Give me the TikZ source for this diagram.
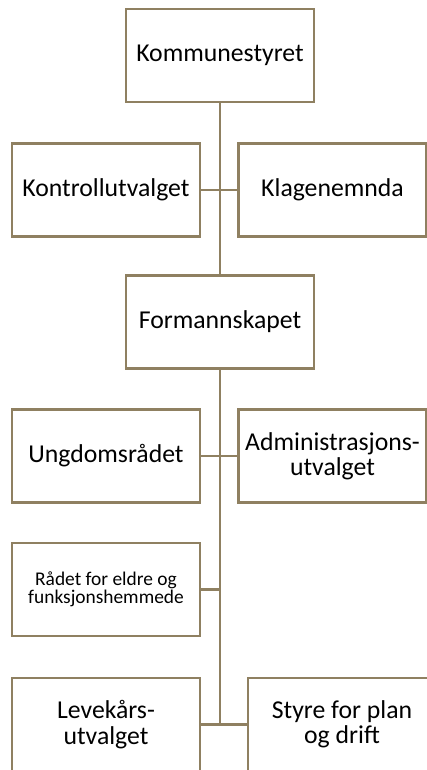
\documentclass[tikz,border=0pt]{standalone}
\usepackage{fontspec}
\setmainfont{Carlito}
\definecolor{taupe}{RGB}{143,128,97}

\begin{document}
\begin{tikzpicture}[x=0.025cm, y=-0.025cm,
  box/.style={draw=taupe, line width=1.8pt, minimum width=4.7cm, minimum height=2.325cm,
    inner sep=0pt, outer sep=0pt, align=center, font=\fontsize{18.3}{18}\selectfont},
  small/.style={font=\fontsize{13.8}{11}\selectfont},
  link/.style={draw=taupe, line width=1.8pt}]
\useasboundingbox (0,0) rectangle (427,770);

% Boxes
\node[box] (komm) at (220,55.5) {Kommunestyret};
\node[box] (kontroll) at (106,190) {Kontrollutvalget};
\node[box] (klage) at (332.5,190) {Klagenemnda};
\node[box] (form) at (220,322) {Formannskapet};
\node[box] (ungdom) at (106,456) {Ungdomsrådet};
\node[box] (admin) at (332.5,456) {Administrasjons-\\utvalget};
\node[box, small] (raadet) at (106,589.5) {Rådet for eldre og\\funksjonshemmede};
\node[box] (leve) at (106,724.5) {Levekårs-\\utvalget};
\node[box] (styre) at (342,724.5) {Styre for plan\\og drift};

% Joints on the trunk
\coordinate (jraadet) at (form.south |- raadet.east);
\coordinate (jend) at (form.south |- leve.east);

% Lines
\path[link] (komm) -- (form);
\path[link] (kontroll) -- (klage);
\path[link] (form) -- (jend);
\path[link] (ungdom) -- (admin);
\path[link] (raadet) -- (jraadet);
\path[link] (leve) -- (styre);

\end{tikzpicture}
\end{document}
